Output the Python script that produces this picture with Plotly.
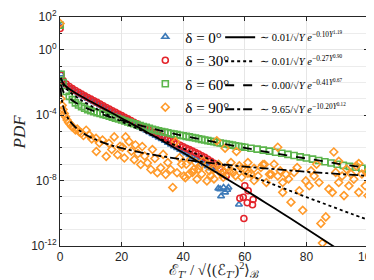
import plotly.graph_objects as go

# ---------------- data (log10 of PDF values) ----------------
blue_x = [0.05, 0.35] + list(range(1, 51)) + [51.4, 53.1, 54.3, 53.6, 52.3, 58.1, 54.7, 52.0]
blue_logy = [1.45, -1.5,
             -1.96, -2.17, -2.32, -2.45, -2.56, -2.67, -2.78, -2.89, -2.99, -3.09,
             -3.19, -3.29, -3.39, -3.50, -3.60, -3.70, -3.80, -3.90, -4.00, -4.10,
             -4.21, -4.31, -4.41, -4.52, -4.62, -4.73, -4.83, -4.94, -5.04, -5.15,
             -5.25, -5.36, -5.46, -5.57, -5.68, -5.79, -5.90, -6.00, -6.11, -6.22,
             -6.33, -6.44, -6.55, -6.66, -6.77, -6.88, -7.00, -7.12, -7.25, -7.40,
             -8.48, -8.42, -8.56, -8.72, -8.96, -9.46, -8.42, -8.52]

red_x = [0.05, 0.35] + list(range(1, 55)) + [60.0, 61.1, 58.4, 59.5, 62.7, 60.8, 62.5, 59.7]
red_logy = [1.3, -1.55,
            -1.89, -2.10, -2.25, -2.38, -2.49, -2.60, -2.71, -2.82, -2.92, -3.02,
            -3.12, -3.22, -3.32, -3.43, -3.53, -3.63, -3.73, -3.83, -3.93, -4.03,
            -4.13, -4.23, -4.33, -4.43, -4.53, -4.63, -4.73, -4.83, -4.93, -5.03,
            -5.12, -5.21, -5.30, -5.39, -5.48, -5.57, -5.66, -5.75, -5.84, -5.93,
            -6.02, -6.11, -6.20, -6.29, -6.38, -6.48, -6.58, -6.70, -6.82, -6.95,
            -7.10, -7.28, -7.48, -7.70,
            -8.32, -8.62, -9.08, -9.02, -9.16, -9.36, -9.48, -10.32]

green_x = [0.05, 0.35] + list(range(1, 61)) + list(range(62, 101, 2))
green_logy = [1.5, -1.5,
              -2.00, -2.55, -2.85, -3.05, -3.25, -3.38, -3.48, -3.58, -3.66, -3.73,
              -3.79, -3.85, -3.90, -3.95, -4.00, -4.06, -4.12, -4.18, -4.24, -4.30,
              -4.36, -4.42, -4.47, -4.53, -4.58, -4.64, -4.70, -4.75, -4.81, -4.86,
              -4.91, -4.96, -5.00, -5.04, -5.08, -5.12, -5.16, -5.19, -5.23, -5.26,
              -5.30, -5.33, -5.37, -5.40, -5.44, -5.48, -5.52, -5.56, -5.60, -5.63,
              -5.67, -5.70, -5.73, -5.76, -5.80, -5.83, -5.87, -5.90, -5.93, -5.96,
              -6.02, -6.08, -6.14, -6.20, -6.27, -6.33, -6.40, -6.47, -6.55, -6.62,
              -6.69, -6.77, -6.85, -6.93, -7.00, -7.07, -7.13, -7.19, -7.25, -7.32]

orange_x = [0.05, 0.3, 0.7, 1.0, 1.4, 1.8, 2.3, 2.8, 3.3, 3.8, 4.3, 5.0, 5.6, 6.3, 7.0, 7.6,
            8.5, 9.5, 10.3, 11.7, 11.8, 12.8, 13.8, 15.0, 15.9, 16.8, 17.6, 18.7, 19.5,
            20.3, 20.9, 21.3, 22.4, 23.2, 24.1, 24.5, 25.3, 26.2, 26.7, 27.5, 28.4, 29.5,
            30.0, 30.8, 31.6, 32.7, 33.5, 34.3, 35.0, 35.9, 36.6, 37.5, 38.0, 38.8, 39.5,
            40.2, 40.7, 41.0, 41.8, 42.3, 43.0, 43.4, 44.0, 44.5, 45.0, 45.5, 46.0, 46.5,
            47.7, 48.0, 48.5, 49.0, 49.8, 50.0, 50.9, 51.5, 52.0, 52.5, 53.0, 53.6, 54.5,
            55.0, 55.5, 56.3, 57.0, 57.3, 58.2, 59.0, 59.0, 60.0, 61.0, 61.0, 62.0, 63.0,
            63.0, 64.3, 65.2, 65.9, 66.4, 67.0, 68.0, 68.6, 69.5, 70.7, 70.7, 71.5, 72.3,
            72.3, 73.4, 74.2, 75.0, 76.0, 77.0, 77.7, 78.8, 79.8, 80.9, 81.5, 82.5, 83.3,
            84.1, 84.7, 85.2, 86.3, 87.3, 88.4, 88.9, 89.5, 90.5, 90.5, 91.6, 92.2, 93.0,
            93.8, 94.5, 95.4, 96.2, 97.0, 97.0, 98.0, 99.1, 99.5, 100.0]
orange_logy = [1.6, -3.0, -3.4, -3.65, -3.9, -4.1, -4.3, -4.45, -4.55, -4.7, -4.75, -4.9,
               -4.85, -5.03, -5.1, -5.25, -4.92, -5.22, -5.45, -5.42, -6.22, -5.7, -5.52,
               -6.52, -5.72, -6.1, -5.33, -6.42, -5.9, -5.96, -6.62, -5.33, -5.62, -6.2,
               -6.72, -5.82, -6.35, -7.02, -5.92, -6.5, -6.92, -7.32, -6.1, -6.65, -7.52,
               -7.22, -6.4, -7.62, -6.9, -7.32, -8.42, -5.62, -7.52, -6.6, -7.0, -7.72,
               -7.82, -7.0, -7.62, -6.72, -7.5, -7.32, -6.9, -7.92, -7.3, -7.1, -7.6,
               -6.8, -8.02, -7.0, -7.4, -7.7, -7.32, -7.9, -5.56, -7.0, -7.3, -7.6, -7.8,
               -6.02, -7.2, -7.45, -6.9, -7.5, -7.7, -6.22, -7.1, -7.8, -7.25, -7.3, -6.9,
               -7.55, -7.6, -8.0, -7.25, -7.72, -7.2, -7.02, -7.02, -8.12, -7.62, -7.62,
               -7.0, -5.96, -7.72, -7.4, -8.12, -8.72, -7.62, -7.9, -9.32, -7.5, -7.2,
               -8.62, -9.82, -8.02, -8.32, -7.4, -7.72, -7.0, -8.12, -10.62, -11.82, -10.22,
               -8.52, -8.72, -6.25, -7.5, -8.12, -6.82, -7.72, -8.92, -7.3, -8.32, -7.6,
               -7.92, -7.1, -8.72, -6.96, -7.6, -8.32, -7.5, -8.92]

# fitted curves
fit0_x = [0.25, 1, 2, 3, 5, 7, 10, 15, 20, 25, 30, 35, 40, 45, 50, 55, 60, 65, 70, 75, 80, 85, 90]
fit0_logy = [-1.71, -2.04, -2.25, -2.40, -2.64, -2.86, -3.17, -3.68, -4.19, -4.70, -5.23, -5.76,
             -6.30, -6.86, -7.42, -7.99, -8.56, -9.15, -9.74, -10.34, -10.94, -11.55, -12.17]
fit30_x = [0.25, 1, 2, 3, 5, 7, 10, 15, 20, 25, 30, 35, 40, 45, 50, 55, 60, 65, 70, 75, 80, 85, 90, 95, 100]
fit30_logy = [-1.73, -2.12, -2.37, -2.55, -2.85, -3.10, -3.43, -3.93, -4.39, -4.82, -5.24, -5.65,
              -6.04, -6.43, -6.81, -7.19, -7.56, -7.93, -8.29, -8.65, -9.01, -9.36, -9.71, -10.06, -10.40]
fit60_x = [0.25, 1, 2, 3, 5, 7, 10, 15, 20, 30, 40, 50, 60, 70, 80, 90, 100]
fit60_logy = [-2.12, -2.53, -2.78, -2.96, -3.22, -3.43, -3.68, -4.03, -4.32, -4.82, -5.26, -5.64,
              -6.00, -6.34, -6.65, -6.96, -7.24]
fit90_x = [0.2, 0.5, 1, 2, 3, 5, 7, 10, 15, 20, 30, 40, 50, 60, 70, 80, 90, 100]
fit90_logy = [-2.32, -2.94, -3.45, -3.98, -4.31, -4.74, -5.03, -5.36, -5.74, -6.01, -6.42, -6.71,
              -6.95, -7.15, -7.31, -7.46, -7.59, -7.71]

series_names = ["δ = 0°", "δ = 30°", "δ = 60°", "δ = 90°"]
fit_labels = [
    "∼ 0.01/√<i>Y</i> <i>e</i><sup>−0.10<i>Y</i><sup>1.19</sup></sup>",
    "∼ 0.01/√<i>Y</i> <i>e</i><sup>−0.27<i>Y</i><sup>0.90</sup></sup>",
    "∼ 0.00/√<i>Y</i> <i>e</i><sup>−0.41<i>Y</i><sup>0.67</sup></sup>",
    "∼ 9.65/√<i>Y</i> <i>e</i><sup>−10.20<i>Y</i><sup>0.12</sup></sup>",
]
x_title = "ℰ<sub><i>T′</i></sub> / √⟨(ℰ<sub><i>T′</i></sub>)<sup>2</sup>⟩<sub>ℬ</sub>"
y_title = "<i>PDF</i>"
ytick_vals = [1e-12, 1e-8, 1e-4, 1, 100]
ytick_text = ["10<sup>-12</sup>", "10<sup>-8</sup>", "10<sup>-4</sup>", "10<sup>0</sup>", "10<sup>2</sup>"]
yminor_vals = [10.0 ** k for k in range(-12, 3)]
xtick_vals = [0, 20, 40, 60, 80, 100]

colors = ["#3d7ab8", "#e4242b", "#5cb54c", "#ff9a2a"]
symbols = ["triangle-up-open", "circle-open", "square-open", "diamond-open"]

fig = go.Figure()
data = [(blue_x, blue_logy), (red_x, red_logy), (green_x, green_logy), (orange_x, orange_logy)]
for i, (xs, ly) in enumerate(data):
    fig.add_trace(go.Scatter(
        x=xs, y=[10.0 ** v for v in ly], mode="markers", name=series_names[i],
        marker=dict(symbol=symbols[i], size=6, color=colors[i], line=dict(width=1.6, color=colors[i])),
        legend="legend", legendgroup="m%d" % i,
    ))

fits = [(fit0_x, fit0_logy, "solid"), (fit30_x, fit30_logy, "dot"),
        (fit60_x, fit60_logy, "dash"), (fit90_x, fit90_logy, "dashdot")]
for i, (xs, ly, dash) in enumerate(fits):
    fig.add_trace(go.Scatter(
        x=xs, y=[10.0 ** v for v in ly], mode="lines", name=fit_labels[i],
        line=dict(color="black", width=1.8, dash=dash, shape="spline"),
        legend="legend2", legendgroup="f%d" % i,
    ))

axis_common = dict(showline=True, linecolor="#262626", linewidth=1, mirror="ticks",
                   ticks="inside", ticklen=4, tickcolor="#262626",
                   tickfont=dict(family="Liberation Sans, Arial", size=12, color="#262626"),
                   showgrid=True, gridcolor="#e6e6e6", gridwidth=1, zeroline=False)

fig.update_layout(
    width=374, height=280, autosize=False,
    margin=dict(l=52, r=14, t=9, b=42, autoexpand=False),
    paper_bgcolor="white", plot_bgcolor="white",
    xaxis=dict(range=[0, 100], tickvals=xtick_vals, automargin=False, **axis_common),
    yaxis=dict(type="log", range=[-12, 2.0001], tickvals=ytick_vals, ticktext=ytick_text,
               automargin=False,
               minor=dict(tickvals=yminor_vals, ticks="inside", ticklen=2, tickcolor="#262626",
                          showgrid=True, gridcolor="#ececec"),
               **axis_common),
    legend=dict(x=0.277, y=0.985, xanchor="left", yanchor="top", bgcolor="rgba(0,0,0,0)",
                font=dict(family="Liberation Serif, serif", size=15, color="black"),
                itemwidth=30, traceorder="grouped", tracegroupgap=1),
    legend2=dict(x=0.52, y=0.975, xanchor="left", yanchor="top", bgcolor="rgba(0,0,0,0)",
                 font=dict(family="Liberation Serif, serif", size=10.5, color="black"),
                 itemwidth=30, traceorder="grouped", tracegroupgap=5),
    annotations=[
        dict(text=x_title, xref="paper", yref="paper", x=0.5, y=-0.105, xanchor="center", yanchor="middle",
             showarrow=False, font=dict(family="Liberation Serif, serif", size=15, color="#262626")),
        dict(text=y_title, xref="paper", yref="paper", x=-0.13, y=0.5, xanchor="center", yanchor="middle",
             textangle=-90, showarrow=False,
             font=dict(family="Liberation Serif, serif", size=17, color="#262626")),
    ],
    showlegend=True,
)

fig.write_html("out.html", config={"responsive": False})
